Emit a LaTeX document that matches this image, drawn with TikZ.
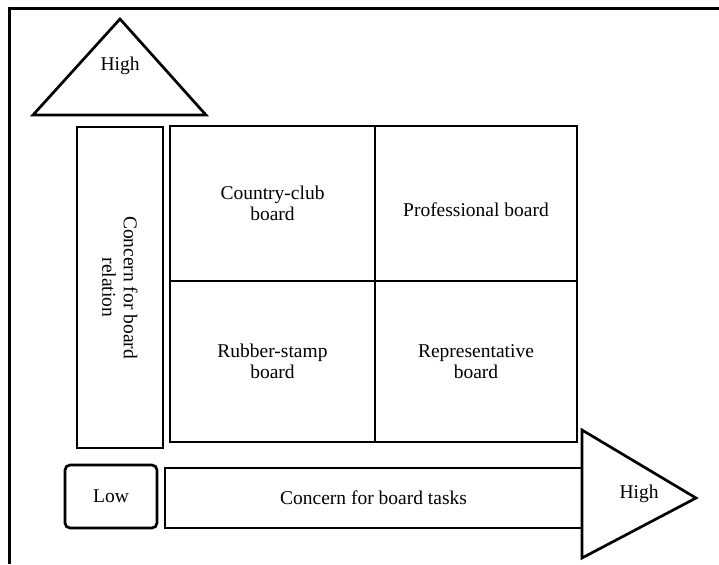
\documentclass[tikz,border=0pt]{standalone}
\usepackage{fontspec}
\setmainfont{Liberation Serif}
\begin{document}
\begin{tikzpicture}[x=1pt,y=-1pt,
  line join=miter,
  frameline/.style={line width=3pt},
  boxline/.style={draw, line width=2.7pt, inner sep=0pt},
  lbl/.style={align=center, font=\fontsize{19.5}{21.5}\selectfont, inner sep=0pt}]
\useasboundingbox (0,0) rectangle (719,564);
% outer frame (cropped: only top and left sides visible)
\coordinate (fTL) at (9,9);
\coordinate (fTR) at (719,9);
\coordinate (fBL) at (9,564);
\draw[frameline] (fTR) -- (fTL) -- (fBL);
% top "High" triangle
\coordinate (tA) at (120,19);
\coordinate (tL) at (33,115);
\coordinate (tR) at (206,115);
\draw[line width=2.7pt] (tA) -- (tR) -- (tL) -- cycle;
\node[lbl] (hightop) at (120,66) {High};
% vertical axis box
\node[boxline, minimum width=86, minimum height=321] (relbox) at (120,287.5) {};
\node[lbl, rotate=-90] (reltext) at (relbox.center) {Concern for board\\relation};
% grid cells
\node[boxline, minimum width=205, minimum height=155] (cc) at (272.5,203.5) {};
\node[boxline, minimum width=202, minimum height=155] (pb) at (476,203.5) {};
\node[boxline, minimum width=205, minimum height=161] (rs) at (272.5,361.5) {};
\node[boxline, minimum width=202, minimum height=161] (rb) at (476,361.5) {};
\node[lbl] at (cc.center) {Country-club\\board};
\node[lbl] at ([yshift=-6]pb.center) {Professional board};
\node[lbl] at (rs.center) {Rubber-stamp\\board};
\node[lbl] at (rb.center) {Representative\\board};
% bottom row
\node[boxline, rounded corners=5pt, minimum width=92, minimum height=63] (low) at (111,496.5) {};
\node[lbl] at (low.center) {Low};
\node[boxline, minimum width=417, minimum height=60] (tasks) at (373.5,498) {};
\node[lbl] at (tasks.center) {Concern for board tasks};
% right "High" triangle
\coordinate (rT) at (582,430);
\coordinate (rB) at (582,558);
\coordinate (rA) at (696,498);
\draw[line width=2.7pt] (rT) -- (rA) -- (rB) -- cycle;
\node[lbl] (highright) at (639,494) {High};
\end{tikzpicture}
\end{document}
